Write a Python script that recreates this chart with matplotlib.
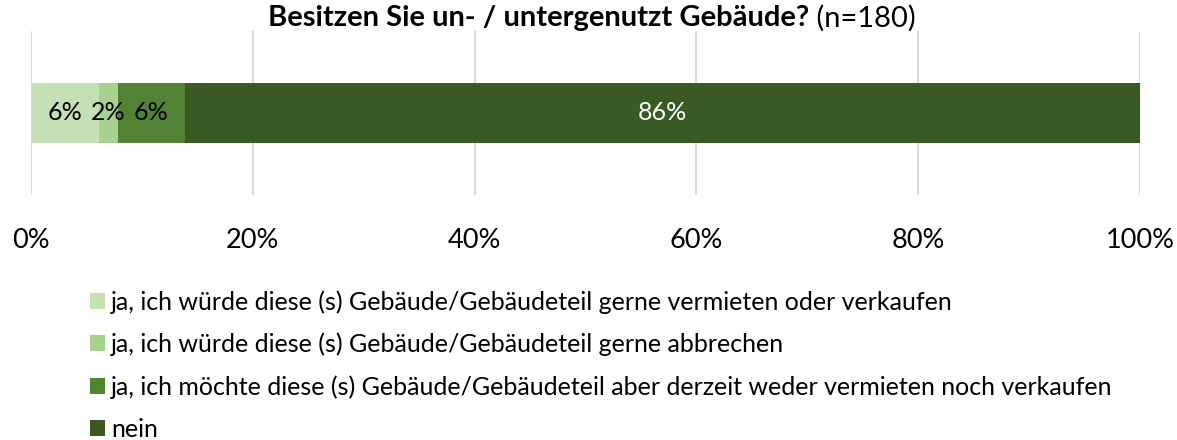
import matplotlib
matplotlib.use('Agg')
import matplotlib.pyplot as plt
from matplotlib.patches import Patch

plt.rcParams['font.family'] = ['Lato', 'DejaVu Sans']

# data (share of n=180 answers, in %)
categories = ['ja, ich würde diese (s) Gebäude/Gebäudeteil gerne vermieten oder verkaufen',
              'ja, ich würde diese (s) Gebäude/Gebäudeteil gerne abbrechen',
              'ja, ich möchte diese (s) Gebäude/Gebäudeteil aber derzeit weder vermieten noch verkaufen',
              'nein']
values = [6.1, 1.7, 6.1, 86.1]
value_labels = ['6%', '2%', '6%', '86%']
xticks = [0, 20, 40, 60, 80, 100]
xticklabels = ['0%', '20%', '40%', '60%', '80%', '100%']
title_bold = 'Besitzen Sie un- / untergenutzt Gebäude?'
title_norm = ' (n=180)'

colors = ['#c5e0b4', '#a9d18e', '#548235', '#3a5a24']
txtclr = ['black', 'black', 'black', 'white']

fig = plt.figure(figsize=(11.77, 4.40), dpi=100)
ax = fig.add_axes([31/1177, 1-195/440, (1140-31)/1177, 164/440])

left = 0
for v, lb, c, tc in zip(values, value_labels, colors, txtclr):
    ax.barh(0, v, left=left, height=0.36, color=c, zorder=2)
    ax.text(left+v/2, 0, lb, ha='center', va='center', color=tc, fontsize=18, zorder=3)
    left += v

ax.set_xlim(0, 100)
ax.set_ylim(-0.5, 0.5)
ax.set_yticks([])
ax.set_xticks(xticks)
ax.set_xticklabels(xticklabels, fontsize=19.5)
ax.tick_params(axis='x', length=0, pad=24)
ax.grid(axis='x', color='#d9d9d9', linewidth=1.5, zorder=0)
for s in ax.spines.values():
    s.set_visible(False)

# title: bold part + normal part
fig.canvas.draw()
r = fig.canvas.get_renderer()
t1 = fig.text(0, 1-18/440, title_bold, fontsize=21, fontweight='bold', va='center', ha='left')
t2 = fig.text(0, 1-18/440, title_norm, fontsize=21, va='center', ha='left')
w1 = t1.get_window_extent(r).width
w2 = t2.get_window_extent(r).width
x0 = 592 - (w1+w2)/2
t1.set_x(x0/1177)
t2.set_x((x0+w1)/1177)

handles = [Patch(facecolor=c) for c in colors]
fig.legend(handles, categories, loc='upper left', bbox_to_anchor=(90/1177, 1-290/440),
           frameon=False, fontsize=18, handlelength=0.6, handleheight=0.6,
           handletextpad=0.24, labelspacing=0.76, borderaxespad=0, borderpad=0)

fig.savefig('out.png', dpi=100)
